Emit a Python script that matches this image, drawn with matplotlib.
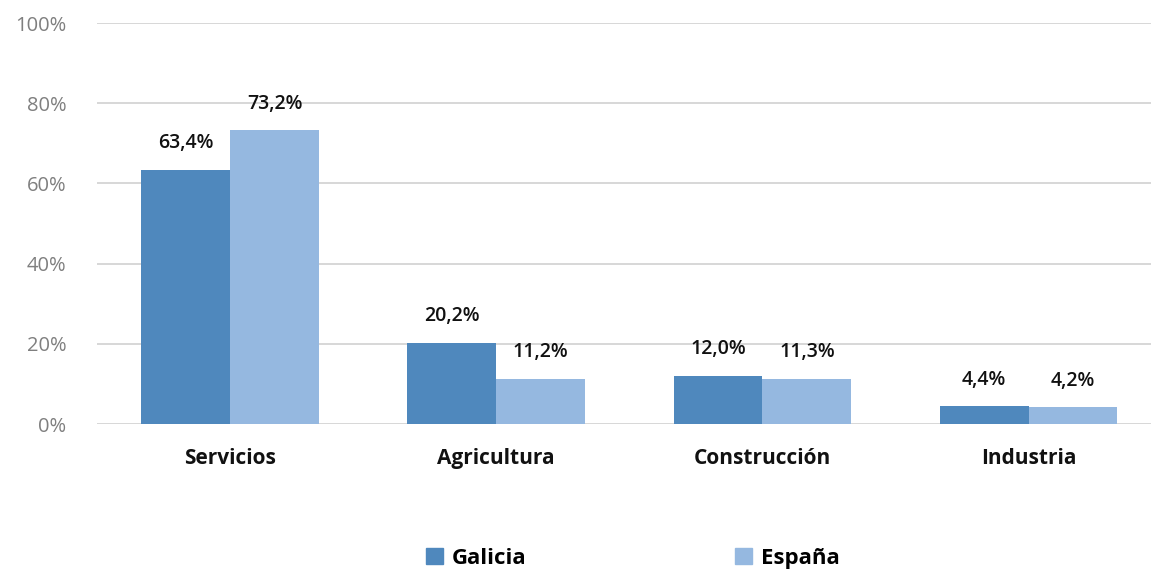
import matplotlib
matplotlib.use("Agg")
import matplotlib.pyplot as plt
import numpy as np
from matplotlib.patches import Patch

categories = ["Servicios", "Agricultura", "Construcción", "Industria"]
galicia = [63.4, 20.2, 12.0, 4.4]
espana = [73.2, 11.2, 11.3, 4.2]
series_names = ["Galicia", "España"]
yticks = [0, 20, 40, 60, 80, 100]

c_gal = "#4f88bd"
c_esp = "#95b8e0"

plt.rcParams['font.family'] = ['Open Sans', 'DejaVu Sans']

fig = plt.figure(figsize=(11.51, 5.71), dpi=100)
ax = fig.add_axes([0.0843, 0.2574, 0.9157, 0.7023])

x = np.arange(len(categories))
w = 0.334
b1 = ax.bar(x - w/2, galicia, w, color=c_gal, zorder=3)
b2 = ax.bar(x + w/2, espana, w, color=c_esp, zorder=3)

def fmt(v):
    return f"{v:.1f}%".replace(".", ",")

for bars, vals in ((b1, galicia), (b2, espana)):
    for r, v in zip(bars, vals):
        ax.annotate(fmt(v), (r.get_x() + r.get_width()/2, v), xytext=(0, 12),
                    textcoords="offset points", ha="center", va="bottom",
                    fontsize=14, fontweight="semibold", color="#111111")

ax.set_ylim(0, 100)
ax.set_xlim(-0.5, 3.46)
ax.set_yticks(yticks)
ax.set_yticklabels([f"{t}%" for t in yticks], fontsize=14.5, color="#7f7f7f")
ax.set_xticks(x)
ax.set_xticklabels(categories, fontsize=15, fontweight="bold", color="#111111")
ax.tick_params(axis="both", length=0)
ax.tick_params(axis="x", pad=17)
ax.tick_params(axis="y", pad=22)
ax.grid(axis="y", color="#d4d4d4", linewidth=1.3, zorder=0)
for s in ax.spines.values():
    s.set_visible(False)

handles = [Patch(color=c_gal), Patch(color=c_esp)]
fig.legend(handles, series_names, loc="center", bbox_to_anchor=(0.55, 0.022), ncol=2,
           frameon=False, prop={"size": 16, "weight": "bold"}, handlelength=0.75,
           handleheight=0.75, handletextpad=0.4, columnspacing=9.4)

fig.savefig("out.png", dpi=100)
